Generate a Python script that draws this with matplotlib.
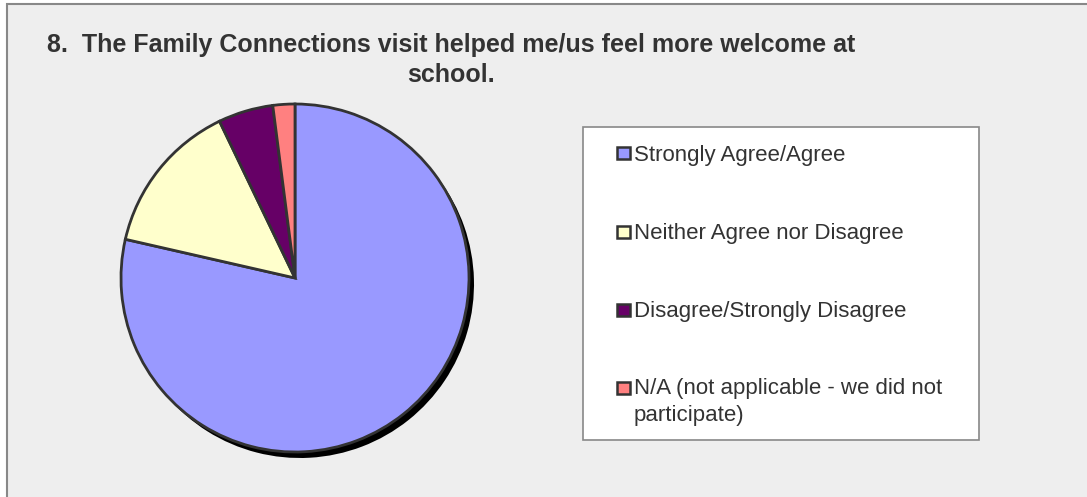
import matplotlib
matplotlib.use("Agg")
import matplotlib.pyplot as plt
from matplotlib.patches import Rectangle
from matplotlib import font_manager

title_lines = ["8.  The Family Connections visit helped me/us feel more welcome at", "school."]
categories = ["Strongly Agree/Agree", "Neither Agree nor Disagree",
              "Disagree/Strongly Disagree", "N/A (not applicable - we did not\nparticipate)"]
values = [77, 14, 5, 2]
colors = ["#9999ff", "#ffffcc", "#660066", "#ff8080"]

W, H = 1087, 497
fig = plt.figure(figsize=(W / 100, H / 100), dpi=100)
fig.patch.set_facecolor("white")

def fx(px):
    return px / W

def fy(py):
    return 1 - py / H

names = {f.name for f in font_manager.fontManager.ttflist}
title_font = "Liberation Sans Narrow" if "Liberation Sans Narrow" in names else "Liberation Sans"
body_font = "Liberation Sans"

# chart area background with border
fig.patches.append(Rectangle((fx(7), -0.01), 1.02 - fx(7), fy(4) + 0.01, transform=fig.transFigure,
                             facecolor="#eeeeee", edgecolor="#888888", linewidth=1.5, zorder=-5))

# Title
tsize = 18 if title_font == "Liberation Sans" else 21
fig.text(fx(451), fy(45), title_lines[0], ha="center", va="center", fontsize=tsize,
         family=title_font, color="#333333", fontweight="bold")
fig.text(fx(451), fy(75), title_lines[1], ha="center", va="center", fontsize=tsize,
         family=title_font, color="#333333", fontweight="bold")

# Pie
cx, cy, R = 295, 278, 174
half = 200
ax = fig.add_axes([fx(cx - half), fy(cy + half), 2 * half / W, 2 * half / H])
ax.set_zorder(2)
ax.patch.set_visible(False)
# shadow
ax.pie(values, startangle=90, counterclock=False, radius=1,
       center=(5 / R, -6 / R), colors=["black"] * len(values),
       wedgeprops=dict(linewidth=0))
ax.pie(values, startangle=90, counterclock=False, radius=1,
       colors=colors, wedgeprops=dict(edgecolor="#333333", linewidth=2))
ax.set_xlim(-half / R, half / R)
ax.set_ylim(-half / R, half / R)
ax.set_aspect("equal")
ax.axis("off")

# Legend box
lx0, ly0, lx1, ly1 = 583, 127, 979, 440
fig.patches.append(Rectangle((fx(lx0), fy(ly1)), fx(lx1) - fx(lx0), fy(ly0) - fy(ly1),
                             transform=fig.transFigure, facecolor="white",
                             edgecolor="#888888", linewidth=1.2, zorder=1))
ys = [153, 232, 310, 388]
pitch = 25
for lab, col, y in zip(categories, colors, ys):
    fig.patches.append(Rectangle((fx(617), fy(y + 6)), fx(630) - fx(617), fy(y - 6) - fy(y + 6),
                                 transform=fig.transFigure, facecolor=col,
                                 edgecolor="#333333", linewidth=1.8, zorder=2))
    nextra = lab.count("\n")
    fig.text(fx(634), fy(y + 7.5 + nextra * pitch), lab, ha="left", va="baseline", fontsize=16,
             family=body_font, color="#333333", linespacing=1.35, zorder=3)

fig.savefig("out.png", dpi=100, facecolor=fig.get_facecolor())
